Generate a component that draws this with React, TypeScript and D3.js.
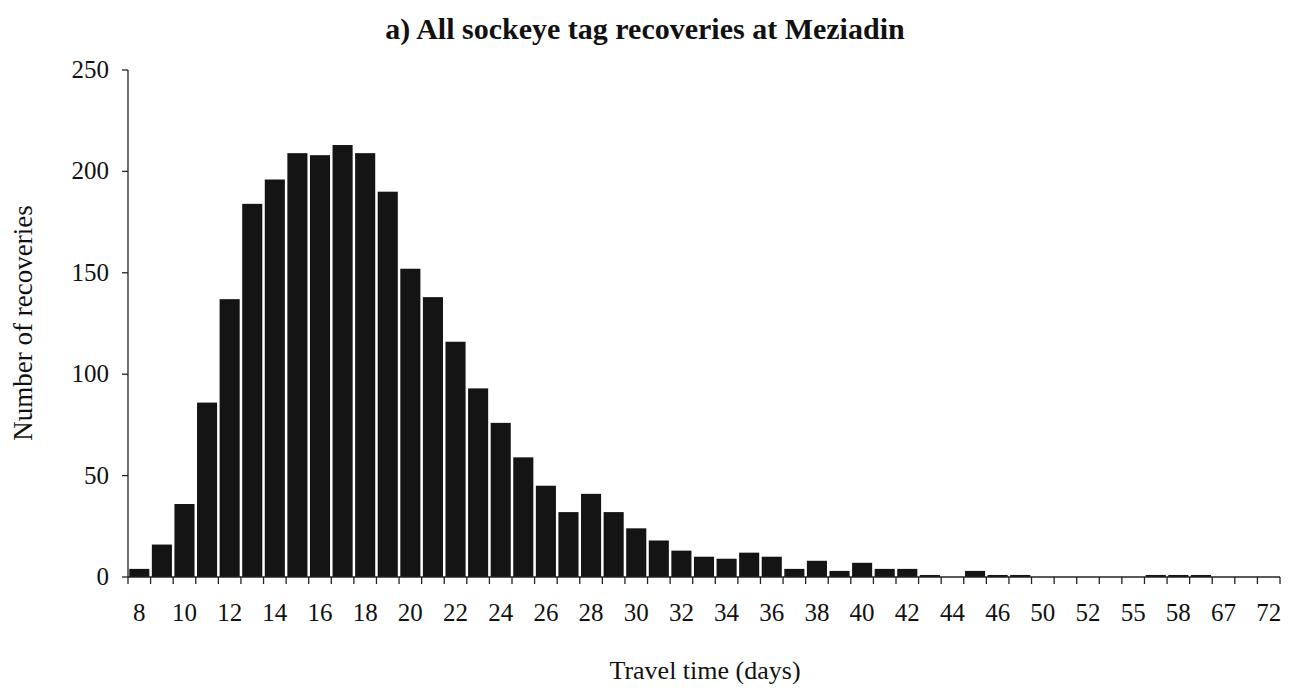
import React from "react";
import * as d3 from "d3";

const days: string[] = [
  "8","9","10","11","12","13","14","15","16","17","18","19","20","21","22","23","24","25","26","27",
  "28","29","30","31","32","33","34","35","36","37","38","39","40","41","42","43","44","45","46","47",
  "50","51","52","54","55","57","58","63","67","70","72",
];
const recoveries: number[] = [
  4, 16, 36, 86, 137, 184, 196, 209, 208, 213, 209, 190, 152, 138, 116, 93, 76, 59, 45, 32,
  41, 32, 24, 18, 13, 10, 9, 12, 10, 4, 8, 3, 7, 4, 4, 1, 0, 3, 1, 1,
  0, 0, 0, 0, 0, 1, 1, 1, 0, 0, 0,
];
const yTicks: number[] = [0, 50, 100, 150, 200, 250];
const title = "a) All sockeye tag recoveries at Meziadin";
const xTitle = "Travel time (days)";
const yTitle = "Number of recoveries";

const W = 1292, H = 688;
const left = 128, right = 1280, top = 70, bottom = 577;
const FONT = "'Liberation Serif', 'Times New Roman', serif";

export default function App() {
  const y = d3.scaleLinear().domain([0, 250]).range([bottom, top]);
  const x = d3.scaleBand<string>().domain(days).range([left, right]).padding(0);
  const step = x.step();
  const boundaries = d3.range(days.length + 1).map((i) => left + i * step);
  return (
    <svg width={W} height={H} style={{ position: "absolute", left: 0, top: 0, background: "#fff" }}>
      <rect x={0} y={0} width={W} height={H} fill="#fff" />
      <text x={645} y={39} textAnchor="middle" fontFamily={FONT} fontWeight="bold" fontSize={30} fill="#111">
        {title}
      </text>
      {days.map((d, i) => {
        const v = recoveries[i];
        if (v <= 0) return null;
        const cx = (x(d) as number) + step / 2;
        const bw = step - 2.5;
        return (
          <rect key={d} x={cx - bw / 2} y={y(v)} width={bw} height={bottom - y(v)} fill="#141414" />
        );
      })}
      <line x1={left} x2={left} y1={top} y2={bottom} stroke="#222" strokeWidth={1.3} />
      {yTicks.map((t) => (
        <g key={t}>
          <line x1={left - 6} x2={left} y1={y(t)} y2={y(t)} stroke="#222" strokeWidth={1.3} />
          <text x={109} y={y(t) + 8} textAnchor="end" fontFamily={FONT} fontSize={25} fill="#111">
            {t}
          </text>
        </g>
      ))}
      <line x1={left} x2={right} y1={bottom} y2={bottom} stroke="#222" strokeWidth={1.3} />
      {boundaries.map((bx, i) => (
        <line key={i} x1={bx} x2={bx} y1={bottom} y2={bottom + 7} stroke="#222" strokeWidth={1.3} />
      ))}
      {days.map((d, i) =>
        i % 2 === 0 ? (
          <text key={d} x={(x(d) as number) + step / 2} y={621} textAnchor="middle" fontFamily={FONT} fontSize={25} fill="#111">
            {d}
          </text>
        ) : null
      )}
      <text x={705} y={679} textAnchor="middle" fontFamily={FONT} fontSize={26} fill="#111">
        {xTitle}
      </text>
      <text transform={`translate(32,323) rotate(-90)`} textAnchor="middle" fontFamily={FONT} fontSize={27} fill="#111">
        {yTitle}
      </text>
    </svg>
  );
}
